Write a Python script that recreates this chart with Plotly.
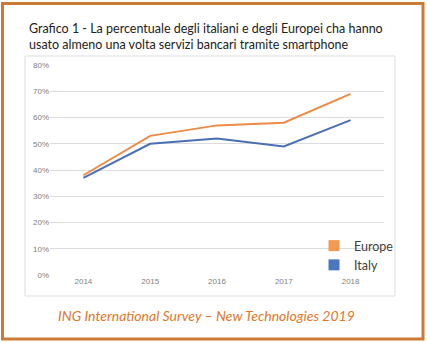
import plotly.graph_objects as go

years = ["2014", "2015", "2016", "2017", "2018"]
europe = [38, 53, 57, 58, 69]
italy = [37, 50, 52, 49, 59]
y_ticks = [0, 10, 20, 30, 40, 50, 60, 70, 80]
y_tick_labels = [f"{v}%" for v in y_ticks]

ORANGE = "#ED8B45"
BLUE = "#4A6FB5"

W, H = 427, 342
L, R, T, B = 50, 43, 65, 67
pw, ph = W - L - R, H - T - B

def px(x):
    return (x - L) / pw

def py(y):
    return (H - B - y) / ph

fig = go.Figure()
fig.add_trace(go.Scatter(x=years, y=europe, mode="lines", line=dict(color=ORANGE, width=2), showlegend=False))
fig.add_trace(go.Scatter(x=years, y=italy, mode="lines", line=dict(color=BLUE, width=2), showlegend=False))
fig.add_trace(go.Scatter(x=[None], y=[None], mode="markers", name="Europe",
                         marker=dict(symbol="square", size=11, color="#F39A50")))
fig.add_trace(go.Scatter(x=[None], y=[None], mode="markers", name="Italy",
                         marker=dict(symbol="square", size=11, color="#4A78C0")))

fig.update_layout(
    width=W, height=H,
    margin=dict(l=L, r=R, t=T, b=B),
    paper_bgcolor="white", plot_bgcolor="white",
    font=dict(family="Lato", color="#333"),
    legend=dict(x=px(314), y=py(231), xanchor="left", yanchor="top",
                font=dict(size=12.5, color="#404040"), itemwidth=30, tracegroupgap=0,
                bgcolor="rgba(0,0,0,0)"),
    xaxis=dict(type="category", range=[-0.5, 4.5], showgrid=False, ticks="", showline=False,
               tickfont=dict(size=8, color="#808080", family="Arial")),
    yaxis=dict(range=[0, 80], tickvals=y_ticks, ticktext=y_tick_labels, showgrid=True, gridcolor="#DCDCDC",
               gridwidth=1, zeroline=False, showline=False, ticks="",
               tickfont=dict(size=8, color="#808080", family="Arial")),
    shapes=[
        dict(type="rect", xref="paper", yref="paper", x0=px(25), x1=px(395), y0=py(296), y1=py(56),
             line=dict(color="#DDDDDD", width=1)),
        dict(type="rect", xref="paper", yref="paper", x0=px(2.5), x1=px(423), y0=py(339), y1=py(3.5),
             line=dict(color="#CC7A36", width=3)),
    ],
    annotations=[
        dict(xref="paper", yref="paper", x=px(27), y=py(19), xanchor="left", yanchor="top",
             align="left", showarrow=False,
             text="Grafico 1 - La percentuale degli italiani e degli Europei cha hanno<br>usato almeno una volta servizi bancari tramite smartphone",
             font=dict(size=12.5, color="#222", family="Lato")),
        dict(xref="paper", yref="paper", x=px(206), y=py(315), xanchor="center", yanchor="middle",
             showarrow=False,
             text="<i>ING International Survey – New Technologies 2019</i>",
             font=dict(size=14, color="#E0772A", family="Lato")),
    ],
)

fig.write_html("out.html")
